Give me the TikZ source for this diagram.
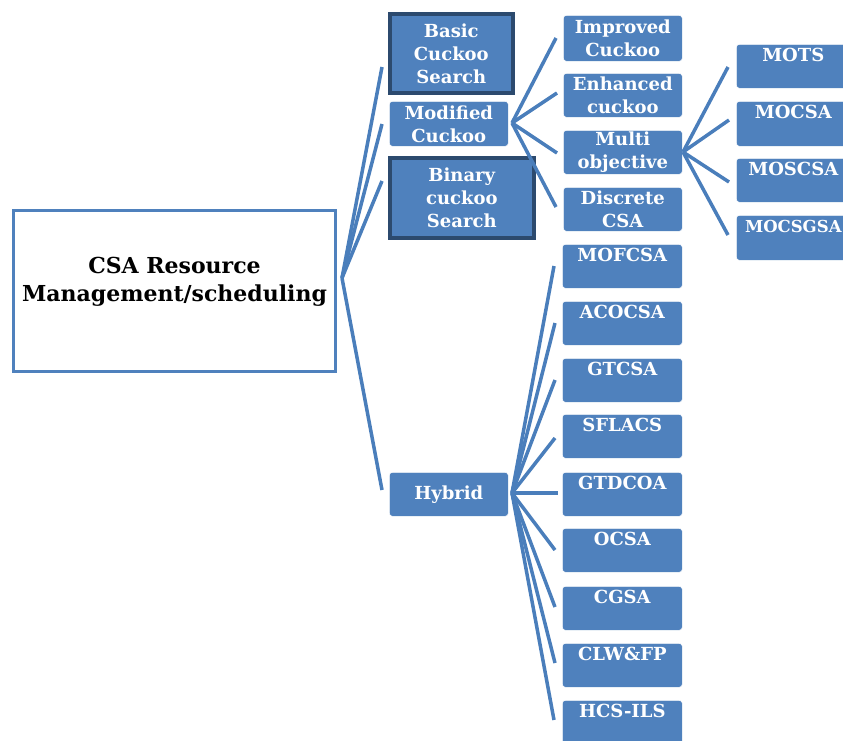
\documentclass[tikz,border=0pt]{standalone}
\usepackage{fontspec}
\setmainfont{DejaVu Serif}
\definecolor{boxblue}{HTML}{4F81BD}
\definecolor{linkblue}{HTML}{4A7EBB}
\definecolor{darkedge}{HTML}{2C4A6E}
\begin{document}
\begin{tikzpicture}[x=1pt,y=-1pt,
  bx/.style={fill=boxblue, draw=white, line width=0.6pt, rounded corners=3pt,
    text=white, font=\bfseries\fontsize{18}{23}\selectfont, align=center,
    inner sep=0pt, anchor=north west},
  dk/.style={bx, draw=darkedge, line width=3.6pt, rounded corners=0pt},
  link/.style={draw=linkblue, line width=3.5pt}]
\useasboundingbox (0,0) rectangle (843,740);
\clip (0,0) rectangle (843,740);
% root
\node[draw=boxblue, line width=3pt, fill=white, minimum width=322pt, minimum height=161pt,
  anchor=north west, inner sep=0pt, align=center,
  font=\bfseries\fontsize{22}{28}\selectfont] (root) at (12,209)
  {CSA Resource\\Management/scheduling\\[-5pt]\mbox{}};
% level 1
\node[dk, minimum width=123pt, minimum height=79pt] (basic) at (388,12) {Basic\\Cuckoo\\Search};
\node[bx, minimum width=119pt, minimum height=45pt] (modified) at (389,101) {Modified\\Cuckoo};
\node[dk, minimum width=144pt, minimum height=80pt] (binary) at (388,156) {Binary\\cuckoo\\Search};
\node[bx, minimum width=119pt, minimum height=44pt] (hybrid) at (389,472) {Hybrid};
% level 2 (modified)
\node[bx, minimum width=119pt, minimum height=46pt] (improved) at (563,15) {Improved\\Cuckoo};
\node[bx, minimum width=119pt, minimum height=44pt] (enhanced) at (563,73) {Enhanced\\cuckoo};
\node[bx, minimum width=119pt, minimum height=44pt] (multi) at (563,130) {Multi\\objective};
\node[bx, minimum width=119pt, minimum height=44pt] (discrete) at (563,187) {Discrete\\CSA};
% level 3 (multi objective)
\node[bx, minimum width=114pt, minimum height=44pt] (mots) at (736,44) {MOTS\\\mbox{}};
\node[bx, minimum width=114pt, minimum height=45pt] (mocsa) at (736,101) {MOCSA\\\mbox{}};
\node[bx, minimum width=114pt, minimum height=44pt] (moscsa) at (736,158) {MOSCSA\\\mbox{}};
\node[bx, minimum width=114pt, minimum height=45pt,
  font=\bfseries\fontsize{16.5}{23}\selectfont] (mocsgsa) at (736,215) {MOCSGSA\\\mbox{}};
% hybrid children
\node[bx, minimum width=120pt, minimum height=44pt] (h1) at (562,244) {MOFCSA\\\mbox{}};
\node[bx, minimum width=120pt, minimum height=44pt] (h2) at (562,301) {ACOCSA\\\mbox{}};
\node[bx, minimum width=120pt, minimum height=44pt] (h3) at (562,358) {GTCSA\\\mbox{}};
\node[bx, minimum width=120pt, minimum height=44pt] (h4) at (562,414) {SFLACS\\\mbox{}};
\node[bx, minimum width=120pt, minimum height=44pt] (h5) at (562,472) {GTDCOA\\\mbox{}};
\node[bx, minimum width=120pt, minimum height=44pt] (h6) at (562,528) {OCSA\\\mbox{}};
\node[bx, minimum width=120pt, minimum height=44pt] (h7) at (562,586) {CGSA\\\mbox{}};
\node[bx, minimum width=120pt, minimum height=44pt] (h8) at (562,643) {CLW\&FP\\\mbox{}};
\node[bx, minimum width=120pt, minimum height=44pt] (h9) at (562,700) {HCS-ILS\\\mbox{}};
% connector junctions and ends
\coordinate (rf) at (342,278);
\coordinate (rbasic) at (382,67);
\coordinate (rmod) at (382,124);
\coordinate (rbin) at (382,181);
\coordinate (rhyb) at (382,490);
\coordinate (mf) at (512,123);
\coordinate (mimp) at (556,38);
\coordinate (menh) at (557,93);
\coordinate (mmul) at (557,153);
\coordinate (mdis) at (556,207);
\coordinate (uf) at (683,152);
\coordinate (umots) at (728,67);
\coordinate (umocsa) at (729,120);
\coordinate (umoscsa) at (729,182);
\coordinate (umocsgsa) at (728,235);
\coordinate (hf) at (512,493);
\coordinate (e1) at (554,266);
\coordinate (e2) at (555,323);
\coordinate (e3) at (555,380);
\coordinate (e4) at (555,438);
\coordinate (e5) at (558,493);
\coordinate (e6) at (555,550);
\coordinate (e7) at (555,607);
\coordinate (e8) at (555,663);
\coordinate (e9) at (554,720);
% connectors
\foreach \t in {rbasic,rmod,rbin,rhyb} \draw[link] (rf) -- (\t);
\foreach \t in {mimp,menh,mmul,mdis} \draw[link] (mf) -- (\t);
\foreach \t in {umots,umocsa,umoscsa,umocsgsa} \draw[link] (uf) -- (\t);
\foreach \t in {e1,e2,e3,e4,e5,e6,e7,e8,e9} \draw[link] (hf) -- (\t);
\end{tikzpicture}
\end{document}
